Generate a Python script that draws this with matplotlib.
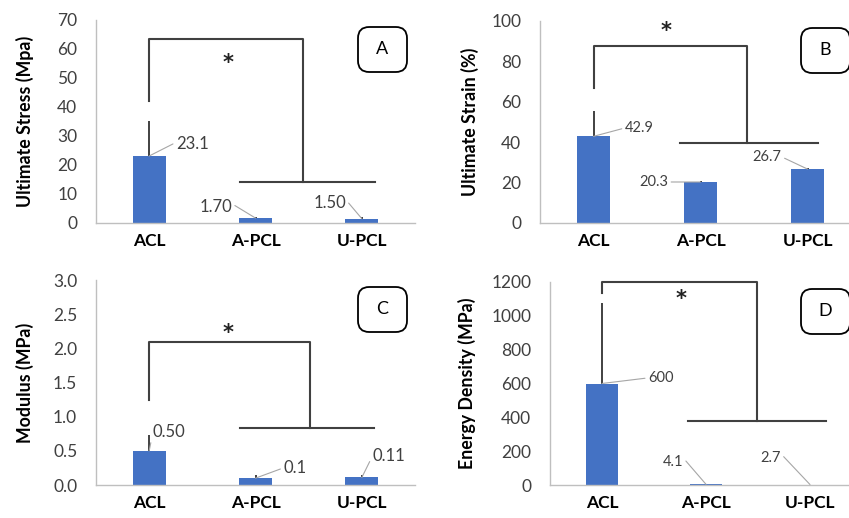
import numpy as np
import matplotlib
matplotlib.use('Agg')
import matplotlib.pyplot as plt
from matplotlib.patches import FancyBboxPatch
from matplotlib.ticker import FormatStrFormatter

plt.rcParams['font.family'] = ['Lato', 'DejaVu Sans']

groups = ['ACL', 'A-PCL', 'U-PCL']

stress = [23.1, 1.70, 1.50]
stress_err = [12.0, 0.5, 0.5]
stress_txt = ['23.1', '1.70', '1.50']

strain = [42.9, 20.3, 26.7]
strain_err = [12.5, 0.5, 0.6]
strain_txt = ['42.9', '20.3', '26.7']

modulus = [0.50, 0.10, 0.11]
modulus_err = [0.23, 0.05, 0.04]
modulus_txt = ['0.50', '0.1', '0.11']

energy = [600, 4.1, 2.7]
energy_err = [478, 0, 0]
energy_txt = ['600', '4.1', '2.7']

BAR = '#4472C4'
GRID = '#bfbfbf'
DARK = '#404040'
LEAD = '#a6a6a6'

# layout per panel: axes rect (px), label offsets, bracket, star
panels = [
    dict(vals=stress, err=stress_err, txt=stress_txt, ylabel='Ultimate Stress (Mpa)',
         rect=(96, 20, 319, 203), ymax=70, ystep=10, fmt='%d', letter='A', lab_off=62, fs=12,
         labels=[(0.25, 27.2, 'left', (0, 0.6)), (0.78, 5.5, 'right', (1, 0.7)), (1.85, 6.9, 'right', (1, 0.7))],
         bracket=(42, 63.4, 1.447, 14.2, 0.855, 2.125), star=(0.742, 55)),
    dict(vals=strain, err=strain_err, txt=strain_txt, ylabel='Ultimate Strain (%)',
         rect=(540, 21, 321, 202), ymax=100, ystep=20, fmt='%d', letter='B', lab_off=61, fs=10.5,
         labels=[(0.29, 47, 'left', (0, 0.5)), (0.70, 20.3, 'right', (1, 0.5)), (1.76, 32.7, 'right', (1, 0.5))],
         bracket=(67, 87.6, 1.435, 39.6, 0.808, 2.098), star=(0.678, 95)),
    dict(vals=modulus, err=modulus_err, txt=modulus_txt, ylabel='Modulus (MPa)',
         rect=(96, 280, 319, 205), ymax=3.0, ystep=0.5, fmt='%.1f', letter='C', lab_off=62, fs=12,
         labels=[(0.036, 0.776, 'left', (0, 0.5)), (1.26, 0.249, 'left', (0, 0.5)), (2.10, 0.425, 'left', (0, 0.5))],
         bracket=(1.25, 2.1, 1.513, 0.83, 0.855, 2.115), star=(0.742, 2.22)),
    dict(vals=energy, err=energy_err, txt=energy_txt, ylabel='Energy Density (MPa)',
         rect=(550, 282, 312, 203), ymax=1200, ystep=200, fmt='%d', letter='D', lab_off=74, fs=10.5,
         labels=[(0.44, 633, 'left', (0, 0.5)), (0.78, 136, 'right', (1, 0.8)), (1.72, 160, 'right', (1, 0.8))],
         bracket=(1137, 1200, 1.49, 378, 0.827, 2.154), star=(0.76, 1100)),
]

W, H = 849, 518
fig = plt.figure(figsize=(W / 100, H / 100), dpi=100)

for p in panels:
    x0, y0, w, h = p['rect']
    ax = fig.add_axes([x0 / W, 1 - (y0 + h) / H, w / W, h / H])
    x = np.arange(len(groups))
    ax.bar(x, p['vals'], width=0.31, color=BAR, zorder=2)
    ax.errorbar(x, p['vals'], yerr=[np.zeros(3), p['err']], fmt='none',
                ecolor='#333333', elinewidth=1.3, capsize=0, zorder=3)
    ax.set_xlim(-0.5, 2.5)
    ax.set_ylim(0, p['ymax'])
    ax.set_yticks(np.arange(0, p['ymax'] + p['ystep'] / 2, p['ystep']))
    ax.yaxis.set_major_formatter(FormatStrFormatter(p['fmt']))
    ax.set_xticks(x)
    ax.set_xticklabels(groups, fontweight='bold', fontsize=12.5, color='black')
    ax.tick_params(axis='y', length=0, pad=13.5, labelsize=12.5, labelcolor=DARK)
    ax.tick_params(axis='x', length=0, pad=7)
    for s in ['top', 'right']:
        ax.spines[s].set_visible(False)
    for s in ['left', 'bottom']:
        ax.spines[s].set_color(GRID)
        ax.spines[s].set_linewidth(1.0)
    ax.set_ylabel(p['ylabel'], fontweight='bold', fontsize=12.8)
    ax.yaxis.set_label_coords(-p['lab_off'] / w, 0.5)

    # value labels with leader lines
    for i, (lx, ly, ha, rp) in enumerate(p['labels']):
        ax.annotate(p['txt'][i], xy=(i, p['vals'][i]), xytext=(lx, ly),
                    ha=ha, va='center', fontsize=p['fs'], color=DARK, zorder=4,
                    arrowprops=dict(arrowstyle='-', color=LEAD, lw=0.8,
                                    shrinkA=0, shrinkB=0, relpos=rp))

    # significance bracket
    ys, yt, xr, yl, xl0, xl1 = p['bracket']
    kw = dict(color=DARK, lw=1.5, clip_on=False, zorder=3)
    ax.plot([0, 0, xr, xr], [ys, yt, yt, yl], **kw)
    ax.plot([xl0, xl1], [yl, yl], **kw)
    ax.text(p['star'][0], p['star'][1], '*', ha='center', va='center',
            fontsize=15, fontweight='bold', color='#222222', family='DejaVu Sans')

    # panel letter box
    bx0, bx1 = (358 - 96) / 319, (407 - 96) / 319
    if x0 > 400:
        bx0, bx1 = (801 - x0) / w, (850 - x0) / w
    by_top = 7 / h
    by_h = 45 / h
    ax.add_patch(FancyBboxPatch((bx0, 1 - by_top - by_h), bx1 - bx0, by_h,
                                boxstyle='round,pad=0,rounding_size=0.035',
                                mutation_aspect=w / h, transform=ax.transAxes,
                                fc='white', ec='black', lw=1.3, clip_on=False, zorder=5))
    ax.text((bx0 + bx1) / 2, 1 - by_top - by_h / 2, p['letter'], transform=ax.transAxes,
            ha='center', va='center', fontsize=13, color='black', zorder=6)

fig.savefig('out.png', dpi=100)
